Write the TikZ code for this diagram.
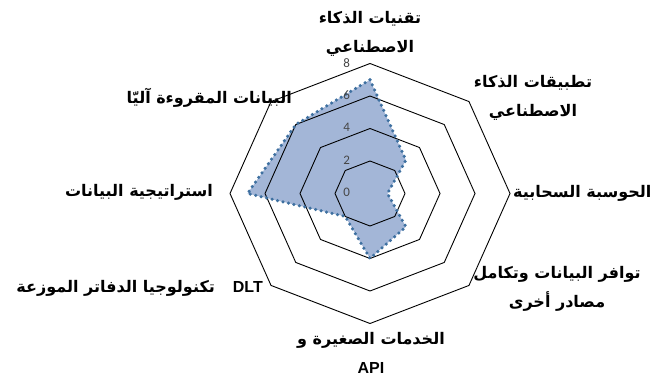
\documentclass[tikz,border=0pt]{standalone}
\usepackage{fontspec}
\setmainfont{Carlito}
\newfontfamily\arabicfont[Script=Arabic]{DejaVu Sans}
\newfontfamily\latinfont{Liberation Sans}
\TeXXeTstate=1
\definecolor{radarfill}{RGB}{163,182,215}
\definecolor{radardots}{RGB}{62,112,160}
\definecolor{ticklbl}{RGB}{70,70,70}
\newcommand{\ar}[1]{\beginR #1\endR}
\tikzset{
  lbl/.style={font=\arabicfont\bfseries\fontsize{16}{29}\selectfont, align=center, inner sep=0pt},
  ring/.style={black, line width=0.9pt},
  dots/.style={radardots, line width=3.5pt, line cap=round, dash pattern=on 0pt off 5.6pt},
  ticknum/.style={font=\fontsize{13}{13}\selectfont, text=ticklbl, inner sep=0pt}
}
\begin{document}
\begin{tikzpicture}[x=1pt, y=1pt]
    \useasboundingbox (0,0) rectangle (663,378);
    \begin{scope}[shift={(370,184.5)}, x=17.5pt, y=16.25pt]
        % Vùng dữ liệu
        \fill[radarfill] (90:7) -- (45:2.9) -- (0:1) -- (-45:2.9) -- (-90:4)
            -- (-135:2) -- (180:7) -- (135:6) -- cycle;
        % Các vòng lưới
        \foreach \r in {2,4,6,8} {
            \draw[ring] (90:\r) \foreach \a in {45,0,...,-225} { -- (\a:\r) } -- cycle;
        }
        \draw[dots] (90:7) -- (45:2.9) -- (0:1) -- (-45:2.9) -- (-90:4)
            -- (-135:2) -- (180:7) -- (135:6) -- cycle;
        \foreach \r in {0,2,4,6,8} {
            \node[ticknum] (tick\r) at (-1.33,\r+0.05) {\r};
        }
    \end{scope}
    % Nhãn các trục
    \node[lbl] (aitech) at (370,344) {\ar{تقنيات الذكاء}\\\ar{الاصطناعي}};
    \node[lbl] (aiapps) at (533,280) {\ar{تطبيقات الذكاء}\\\ar{الاصطناعي}};
    \node[lbl, anchor=west] (cloud) at (513,185) {\ar{الحوسبة السحابية}};
    \node[lbl] (avail) at (557,89) {\ar{توافر البيانات وتكامل}\\\ar{مصادر أخرى}};
    \node[lbl] (micro) at (371,25) {\ar{الخدمات الصغيرة و}\\{\latinfont\bfseries API}};
    \node[lbl, anchor=east] (dlt) at (263,90) {\ar{تكنولوجيا الدفاتر الموزعة}\hspace{18pt}{\latinfont\bfseries DLT}};
    \node[lbl, anchor=east] (strategy) at (213,186) {\ar{استراتيجية البيانات}};
    \node[lbl, anchor=east] (machine) at (292,280) {\ar{البيانات المقروءة آليّا}};
\end{tikzpicture}
\end{document}
